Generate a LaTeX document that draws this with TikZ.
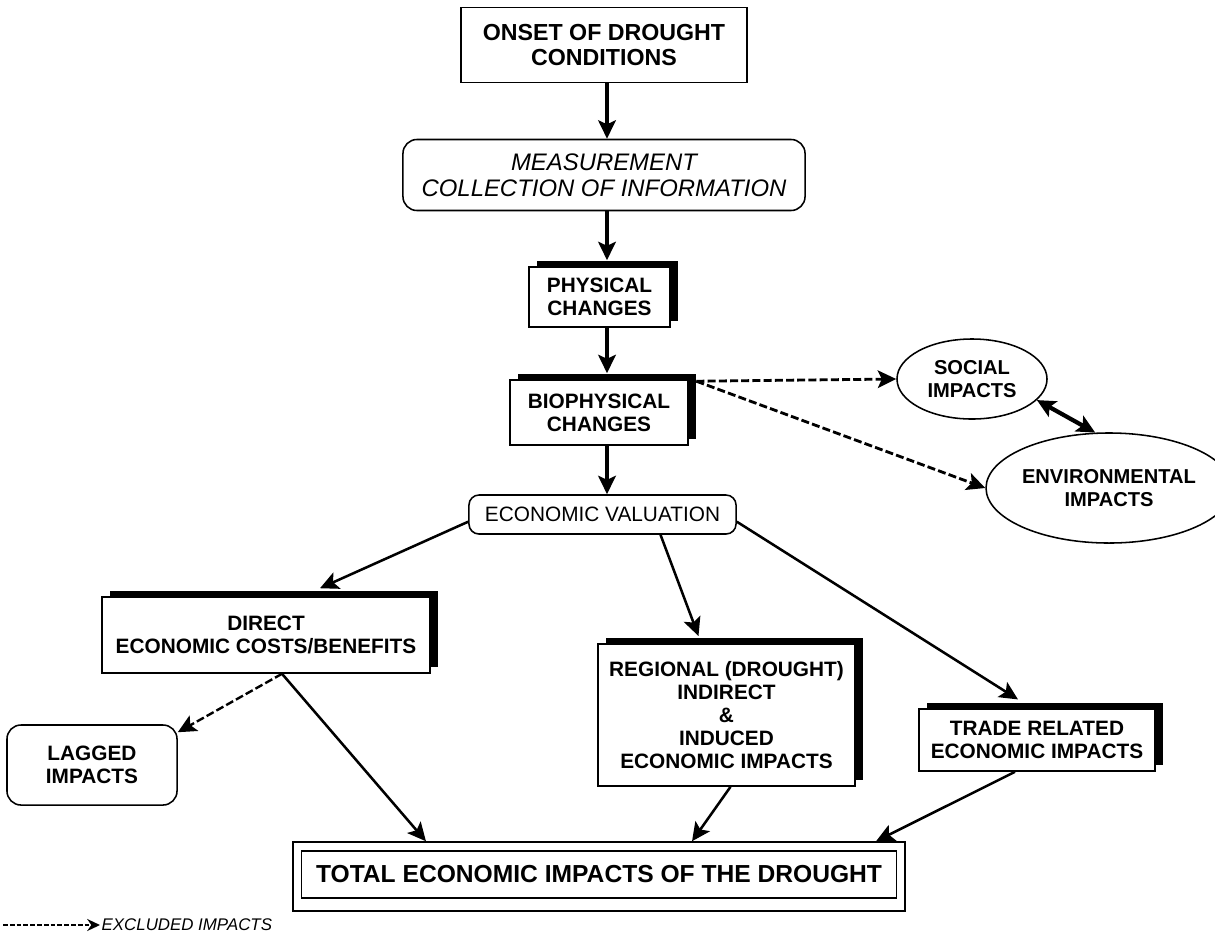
\documentclass[tikz,border=0pt]{standalone}
\usepackage{fontspec}
\setmainfont{Liberation Sans}
\usetikzlibrary{arrows.meta,shapes.geometric,shadows}

\tikzset{
  plainbox/.style={draw, line width=1.1pt, fill=white, align=center, inner sep=0pt,
    font=\bfseries\fontsize{14.8}{16.5}\selectfont},
  shadowbox/.style={plainbox, general shadow={fill=black, shadow xshift=0.19cm, shadow yshift=0.15cm}},
  roundbox/.style={plainbox, rounded corners=0.35cm},
  impact/.style={draw, ellipse, line width=1.1pt, align=center, inner sep=0pt,
    font=\bfseries\fontsize{14.3}{16}\selectfont},
  flow/.style={line width=2.4pt, -{Stealth[length=0.46cm, width=0.44cm, inset=0.1cm]}},
  link/.style={flow, line width=1.8pt},
  excluded/.style={flow, line width=2pt, dash pattern=on 0.2cm off 0.08cm},
}

\begin{document}
\begin{tikzpicture}[x=0.025cm, y=-0.025cm]
        \useasboundingbox (0,0) rectangle (1215,942);

        \node[plainbox, font=\bfseries\fontsize{16.5}{18}\selectfont, minimum width=7.15cm, minimum height=1.875cm] (onset) at (604,45) {ONSET OF DROUGHT\\CONDITIONS};
        \node[roundbox, font=\itshape\fontsize{17}{18.5}\selectfont, minimum width=10.05cm, minimum height=1.775cm] (measure) at (604,175) {MEASUREMENT\\COLLECTION OF INFORMATION};
        \node[shadowbox, minimum width=3.525cm, minimum height=1.5cm] (physical) at (599.5,297) {PHYSICAL\\CHANGES};
        \node[shadowbox, minimum width=4.45cm, minimum height=1.625cm] (biophys) at (599,412.5) {BIOPHYSICAL\\CHANGES};
        \node[roundbox, rounded corners=0.25cm, font=\fontsize{14.8}{16.5}\selectfont, minimum width=6.675cm, minimum height=0.975cm] (valuation) at (602.5,514.5) {ECONOMIC VALUATION};

        \node[impact, minimum width=3.75cm, minimum height=2cm] (social) at (972,379) {SOCIAL\\IMPACTS};
        \node[impact, minimum width=5.2cm, minimum height=2.75cm] (environ) at (1109,488) {ENVIRONMENTAL\\IMPACTS};

        \node[shadowbox, minimum width=8.2cm, minimum height=1.9cm] (direct) at (266,635) {DIRECT\\ECONOMIC COSTS/BENEFITS};
        \node[roundbox, minimum width=4.25cm, minimum height=2cm] (lagged) at (92,765) {LAGGED\\IMPACTS};
        \node[shadowbox, minimum width=6.425cm, minimum height=3.55cm] (regional) at (726.5,715) {REGIONAL (DROUGHT)\\INDIRECT\\\&\\INDUCED\\ECONOMIC IMPACTS};
        \node[shadowbox, minimum width=5.9cm, minimum height=1.55cm] (trade) at (1037,740) {TRADE RELATED\\ECONOMIC IMPACTS};

        \node[draw, line width=1.1pt, minimum width=15.3cm, minimum height=1.725cm] (total) at (599,876.5) {};
        \node[draw, line width=1.1pt, minimum width=14.875cm, minimum height=1.175cm, font=\bfseries\fontsize{17.5}{19}\selectfont] (totaltext) at (599,874.5) {TOTAL ECONOMIC IMPACTS OF THE DROUGHT};

        \coordinate (spine) at (607,0);
        \coordinate (split) at ([xshift=0.19cm,yshift=-0.05cm]biophys.north east);
        \coordinate (legstart) at (3,925);
        \node[anchor=west, inner sep=1pt, font=\itshape\fontsize{12}{13}\selectfont] (legend) at (100,925) {EXCLUDED IMPACTS};

        % main chain
        \draw[flow] (spine |- onset.south) -- (spine |- measure.north);
        \draw[flow] (spine |- measure.south) -- ([yshift=0.15cm]spine |- physical.north);
        \draw[flow] (spine |- physical.south) -- ([yshift=0.15cm]spine |- biophys.north);
        \draw[flow] (spine |- biophys.south) -- (spine |- valuation.north);

        \draw[excluded] (split) -- (social.west);
        \draw[excluded] (split) -- (environ.west);
        \draw[line width=3pt, {Stealth[length=0.46cm, width=0.44cm, inset=0.1cm]}-{Stealth[length=0.46cm, width=0.44cm, inset=0.1cm]}] (social.-18) -- (environ.104);

        \draw[link] ([yshift=-0.18cm]valuation.west) -- ([xshift=1.35cm,yshift=0.2cm]direct.north);
        \draw[link] ([xshift=1.45cm]valuation.south) -- ([xshift=-0.7cm,yshift=0.18cm]regional.north);
        \draw[link] ([yshift=-0.18cm]valuation.east) -- ([xshift=-0.475cm,yshift=0.22cm]trade.north);

        \draw[excluded, line width=1.7pt] ([xshift=0.4cm]direct.south) -- ([yshift=-0.2cm]lagged.north east);
        \draw[link] ([xshift=0.4cm]direct.south) -- ([xshift=-4.325cm]total.north);
        \draw[link] ([xshift=0.1cm]regional.south) -- ([xshift=2.325cm]total.north);
        \draw[link] ([xshift=-0.55cm]trade.south) -- ([xshift=6.925cm]total.north);

        \draw[excluded, line width=1.5pt, dash pattern=on 0.12cm off 0.05cm, -{Stealth[length=0.32cm, width=0.3cm]}] (legstart) -- (legend.west);
\end{tikzpicture}
\end{document}
